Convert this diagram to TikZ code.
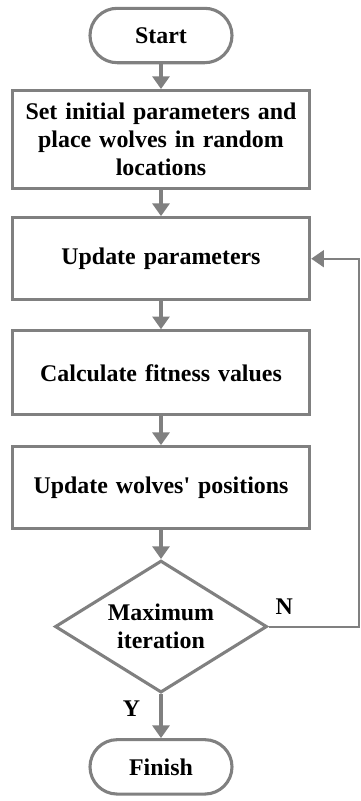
\documentclass[tikz,border=0pt]{standalone}
\usepackage{fontspec}
\setmainfont{Liberation Serif}
\usepackage{xcolor}
\usetikzlibrary{shapes.geometric, arrows.meta, positioning, calc}
\definecolor{mygray}{RGB}{128, 128, 128}

\begin{document}
\begin{tikzpicture}[
    node distance=0.7cm,
    term/.style={rectangle, rounded corners=0.68cm, draw=mygray, line width=2.2pt, fill=white, minimum width=3.55cm, minimum height=1.36cm, text centered, font=\fontsize{17}{20}\selectfont\bfseries},
    box/.style={rectangle, draw=mygray, line width=2.2pt, fill=white, minimum width=7.4cm, minimum height=2.05cm, text width=7.2cm, align=center, font=\fontsize{17}{20}\selectfont\bfseries},
    decision/.style={diamond, shape aspect=1.6, draw=mygray, line width=2.2pt, fill=white, minimum width=5.3cm, minimum height=3.3cm, inner sep=0pt, align=center, font=\fontsize{17}{20}\selectfont\bfseries},
    arrow/.style={draw=mygray, line width=2.2pt, -{Triangle[width=12pt,length=9pt]}},
    loop/.style={draw=mygray, line width=1.5pt, -{Triangle[width=12pt,length=9pt]}}
]
\useasboundingbox (0,0) rectangle (9,-20.025);

% Start
\node[term] (start) at (4.025,-0.8875) {Start};

% Steps
\node[box, below=0.62cm of start, minimum height=2.45cm] (init) {Set initial parameters and\\place wolves in random\\locations};
\node[box, below=0.65cm of init] (update) {Update parameters};
\node[box, below=0.7cm of update, minimum height=2.1cm] (fitness) {Calculate fitness values};
\node[box, below=0.72cm of fitness] (position) {Update wolves\textquotesingle\ positions};

% Decision
\node[decision, below=0.72cm of position] (check) {Maximum\\iteration};

% Finish
\node[term, below=1.1cm of check] (finish) {Finish};

% Arrows
\draw[arrow] (start) -- (init);
\draw[arrow] (init) -- (update);
\draw[arrow] (update) -- (fitness);
\draw[arrow] (fitness) -- (position);
\draw[arrow] (position) -- (check);
\draw[arrow] (check) -- (finish);
\draw[loop] (check.east) -- ++(2.26,0) |- (update.east);

% Branch labels
\node[font=\fontsize{17}{18}\selectfont\bfseries, above right=0.18cm and 0.05cm of check.east] (no) {N};
\node[font=\fontsize{17}{18}\selectfont\bfseries, below left=0.05cm and 0.4cm of check.south] (yes) {Y};

\end{tikzpicture}
\end{document}
